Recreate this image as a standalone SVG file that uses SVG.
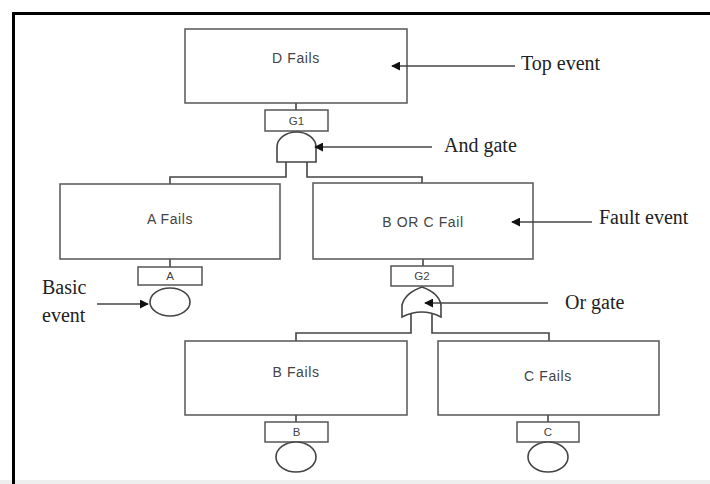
<svg xmlns="http://www.w3.org/2000/svg" width="710" height="484" viewBox="0 0 710 484">
<style>
.box{fill:#fff;stroke:#555;stroke-width:1.5}
.gate{fill:#fff;stroke:#444;stroke-width:1.6}
.lbl{font-family:"Liberation Sans",Arial,sans-serif;font-size:14px;letter-spacing:0.6px;fill:#444;text-anchor:middle}
.glbl{font-family:"Liberation Sans",Arial,sans-serif;font-size:11.5px;fill:#444;text-anchor:middle}
.ann{font-family:"Liberation Serif","Times New Roman",serif;font-size:20px;fill:#222}
.con{fill:none;stroke:#444;stroke-width:1.6}
.ptr{fill:none;stroke:#444;stroke-width:1.3}
</style>
<defs>
<marker id="ah" viewBox="0 0 10 10" refX="9" refY="5" markerWidth="9" markerHeight="9" markerUnits="userSpaceOnUse" orient="auto">
<path d="M0,0 L10,5 L0,10 Z" fill="#111"/>
</marker>
</defs>
<rect width="710" height="484" fill="#fff"/>
<rect x="0" y="480" width="710" height="4" fill="#eeeeee"/>
<path d="M13.5,484 V13.5 H710" fill="none" stroke="#000" stroke-width="3"/>

<g id="connectors">
<path class="con" d="M296,103 V110"/>
<path class="con" d="M286,162 V177 H170 V184"/>
<path class="con" d="M307,162 V177 H422 V183"/>
<path class="con" d="M170,259 V267"/>
<path class="con" d="M423,259 V266"/>
<path class="con" d="M411,313 V333 H296 V341"/>
<path class="con" d="M432,313 V333 H549 V341"/>
<path class="con" d="M296,415 V422"/>
<path class="con" d="M548,415 V422"/>
</g>

<g id="top-event">
<rect class="box" x="185" y="29" width="222" height="74"/>
<text class="lbl" x="296" y="63">D Fails</text>
</g>
<g id="g1">
<rect class="box" x="265" y="110" width="63" height="21"/>
<text class="glbl" x="296.5" y="124.5">G1</text>
</g>
<g id="and-gate">
<path class="gate" d="M277,162 V147 A19.5,15 0 0 1 316,147 V162 Z"/>
</g>
<g id="a-fails">
<rect class="box" x="60" y="184" width="220" height="75"/>
<text class="lbl" x="170" y="224">A Fails</text>
</g>
<g id="b-or-c-fail">
<rect class="box" x="313" y="183" width="220" height="76"/>
<text class="lbl" x="423" y="227">B OR C Fail</text>
</g>
<g id="gate-a">
<rect class="box" x="138" y="267" width="64" height="18"/>
<text class="glbl" x="170" y="280">A</text>
</g>
<g id="basic-a">
<ellipse class="gate" cx="170" cy="302" rx="20" ry="14"/>
</g>
<g id="g2">
<rect class="box" x="391" y="266" width="62" height="20"/>
<text class="glbl" x="422" y="280">G2</text>
</g>
<g id="or-gate">
<path class="gate" d="M402,317 V305 Q405,293 422,287 Q439,293 441,305 V317 Q422,307 402,317 Z"/>
</g>
<g id="b-fails">
<rect class="box" x="185" y="341" width="222" height="74"/>
<text class="lbl" x="296" y="377">B Fails</text>
</g>
<g id="c-fails">
<rect class="box" x="438" y="341" width="221" height="74"/>
<text class="lbl" x="548" y="381">C Fails</text>
</g>
<g id="gate-b">
<rect class="box" x="265" y="422" width="63" height="20"/>
<text class="glbl" x="296.5" y="436">B</text>
</g>
<g id="basic-b">
<ellipse class="gate" cx="296" cy="457" rx="20" ry="15"/>
</g>
<g id="gate-c">
<rect class="box" x="517" y="422" width="62" height="20"/>
<text class="glbl" x="548" y="436">C</text>
</g>
<g id="basic-c">
<ellipse class="gate" cx="548" cy="457" rx="20" ry="15"/>
</g>

<g id="pointers">
<path class="ptr" d="M515,66 H392" marker-end="url(#ah)"/>
<path class="ptr" d="M432,147 H315" marker-end="url(#ah)"/>
<path class="ptr" d="M592,222 H512" marker-end="url(#ah)"/>
<path class="ptr" d="M548,303 H425" marker-end="url(#ah)"/>
<path class="ptr" d="M97,304 H148" marker-end="url(#ah)"/>
</g>

<g id="annotations">
<text class="ann" x="521" y="70">Top event</text>
<text class="ann" x="444" y="152">And gate</text>
<text class="ann" x="599" y="224">Fault event</text>
<text class="ann" x="565" y="309">Or gate</text>
<text class="ann" x="42" y="294">Basic</text>
<text class="ann" x="42" y="322">event</text>
</g>
</svg>
